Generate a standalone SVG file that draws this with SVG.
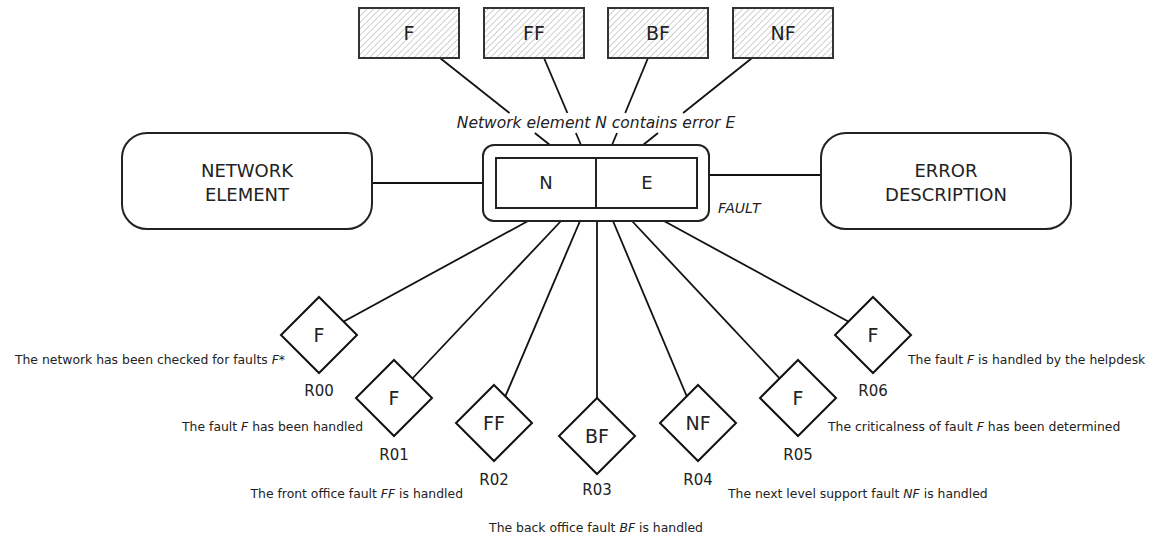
<svg xmlns="http://www.w3.org/2000/svg" width="1157" height="538" viewBox="0 0 1157 538">
<style>
text{font-family:"DejaVu Sans","Verdana",sans-serif;fill:#222}
.box{fill:url(#hatch);stroke:#333;stroke-width:2}
.rbox{fill:#fff;stroke:#222;stroke-width:2}
.dia{fill:#fff;stroke:#111;stroke-width:2}
.con line{stroke:#111;stroke-width:1.8}
.big{font-size:18px;text-anchor:middle}
.tb{font-size:19px;text-anchor:middle}
.dl{font-size:19px;text-anchor:middle}
.rl{font-size:15px;text-anchor:middle}
.desc{font-size:12.4px}
.it{font-style:italic}
</style>
<defs>
<pattern id="hatch" width="4.5" height="4.5" patternUnits="userSpaceOnUse" patternTransform="rotate(45)">
<rect width="4.5" height="4.5" fill="#fff"/>
<line x1="0" y1="0" x2="0" y2="4.5" stroke="#a8a8a8" stroke-width="1.1"/>
</pattern>
</defs>
<rect width="1157" height="538" fill="#fff"/>
<g id="connectors" class="con">
<line x1="440" y1="58" x2="509.5" y2="113"/><line x1="534.8" y1="133" x2="550" y2="145"/>
<line x1="544" y1="58" x2="567.4" y2="113"/><line x1="575.9" y1="133" x2="581" y2="145"/>
<line x1="648" y1="58" x2="625.2" y2="113"/><line x1="617" y1="133" x2="612" y2="145"/>
<line x1="752" y1="58" x2="683.1" y2="113"/><line x1="658" y1="133" x2="643" y2="145"/>
<line x1="372" y1="183" x2="496" y2="183"/>
<line x1="697" y1="175" x2="821" y2="175"/>
<line x1="528" y1="221" x2="319" y2="335"/>
<line x1="561" y1="221" x2="394" y2="398"/>
<line x1="580" y1="221" x2="494" y2="423"/>
<line x1="597" y1="221" x2="597" y2="436"/>
<line x1="613" y1="221" x2="698" y2="423"/>
<line x1="632" y1="221" x2="798" y2="398"/>
<line x1="664" y1="221" x2="873" y2="335"/>
</g>
<g id="box-F"><rect class="box" x="359" y="8" width="100" height="50"/><text class="tb" x="409" y="40">F</text></g>
<g id="box-FF"><rect class="box" x="484" y="8" width="100" height="50"/><text class="tb" x="534" y="40">FF</text></g>
<g id="box-BF"><rect class="box" x="608" y="8" width="100" height="50"/><text class="tb" x="658" y="40">BF</text></g>
<g id="box-NF"><rect class="box" x="733" y="8" width="100" height="50"/><text class="tb" x="783" y="40">NF</text></g>
<g id="fact-label"><text class="it" x="596" y="128" font-size="15.5" text-anchor="middle">Network element N contains error E</text></g>
<g id="network-element"><rect class="rbox" x="122" y="133" width="250" height="96" rx="25"/><text class="big" x="247" y="177">NETWORK</text><text class="big" x="247" y="201">ELEMENT</text></g>
<g id="error-description"><rect class="rbox" x="821" y="133" width="250" height="96" rx="25"/><text class="big" x="946" y="177">ERROR</text><text class="big" x="946" y="201">DESCRIPTION</text></g>
<g id="fault">
<rect class="rbox" x="483" y="145" width="226" height="76" rx="11"/>
<rect class="rbox" x="496" y="158" width="201" height="50"/>
<line x1="596" y1="158" x2="596" y2="208" stroke="#222" stroke-width="2"/>
<text class="big" x="546" y="189">N</text><text class="big" x="647" y="189">E</text>
<text class="it" x="718" y="213" font-size="14">FAULT</text>
</g>
<g id="R00"><path class="dia" d="M319 297L357 335L319 373L281 335Z"/><text class="dl" x="319" y="342">F</text><text class="rl" x="319" y="396">R00</text><text class="desc" x="285" y="364" text-anchor="end">The network has been checked for faults <tspan class="it">F*</tspan></text></g>
<g id="R01"><path class="dia" d="M394 360L432 398L394 436L356 398Z"/><text class="dl" x="394" y="405">F</text><text class="rl" x="394" y="460">R01</text><text class="desc" x="363" y="431" text-anchor="end">The fault <tspan class="it">F</tspan> has been handled</text></g>
<g id="R02"><path class="dia" d="M494 385L532 423L494 461L456 423Z"/><text class="dl" x="494" y="430">FF</text><text class="rl" x="494" y="485">R02</text><text class="desc" x="463" y="498" text-anchor="end">The front office fault <tspan class="it">FF</tspan> is handled</text></g>
<g id="R03"><path class="dia" d="M597 398L635 436L597 474L559 436Z"/><text class="dl" x="597" y="443">BF</text><text class="rl" x="597" y="495">R03</text><text class="desc" x="596" y="532" text-anchor="middle">The back office fault <tspan class="it">BF</tspan> is handled</text></g>
<g id="R04"><path class="dia" d="M698 385L736 423L698 461L660 423Z"/><text class="dl" x="698" y="430">NF</text><text class="rl" x="698" y="485">R04</text><text class="desc" x="728" y="498">The next level support fault <tspan class="it">NF</tspan> is handled</text></g>
<g id="R05"><path class="dia" d="M798 360L836 398L798 436L760 398Z"/><text class="dl" x="798" y="405">F</text><text class="rl" x="798" y="460">R05</text><text class="desc" x="828" y="431">The criticalness of fault <tspan class="it">F</tspan> has been determined</text></g>
<g id="R06"><path class="dia" d="M873 297L911 335L873 373L835 335Z"/><text class="dl" x="873" y="342">F</text><text class="rl" x="873" y="396">R06</text><text class="desc" x="908" y="364">The fault <tspan class="it">F</tspan> is handled by the helpdesk</text></g>
</svg>
